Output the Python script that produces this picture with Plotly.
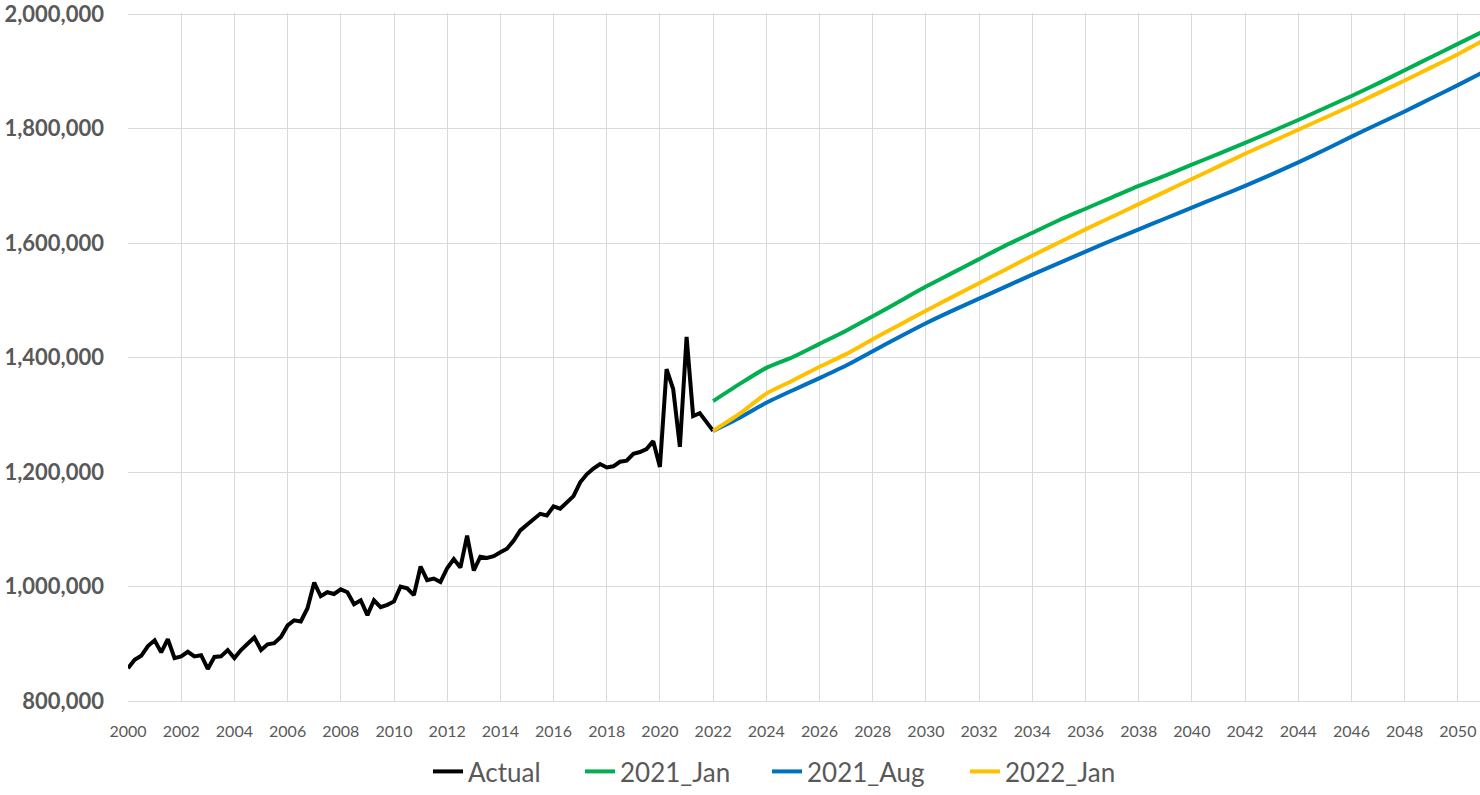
import pandas as pd
import plotly.graph_objects as go

# Actual quarterly values, Jan 2000 .. Jan 2022
actual_dates = pd.date_range("2000-01-01", periods=89, freq="QS")
actual = [
    857000, 872000, 879000, 896000, 906000, 885000, 908000, 875000, 878000, 886000,
    878000, 880000, 856000, 877000, 878000, 889000, 875000, 889000, 900000, 911000,
    889000, 899000, 901000, 912000, 932000, 941000, 939000, 962000, 1007000, 983000,
    990000, 987000, 995000, 990000, 969000, 976000, 950000, 976000, 964000, 968000,
    974000, 1000000, 997000, 985000, 1035000, 1011000, 1014000, 1008000, 1032000, 1048000,
    1033000, 1089000, 1028000, 1052000, 1050000, 1053000, 1060000, 1066000, 1080000, 1098000,
    1108000, 1118000, 1127000, 1124000, 1140000, 1136000, 1148000, 1158000, 1182000, 1196000,
    1206000, 1214000, 1208000, 1210000, 1218000, 1220000, 1232000, 1235000, 1240000, 1254000,
    1209000, 1380000, 1345000, 1244000, 1436000, 1298000, 1303000, 1288000, 1272000,
]

# Forecast vintages, yearly from Jan 2022
forecast_dates = pd.date_range("2022-01-01", periods=30, freq="YS")
fc_2021_jan = [
    1324000, 1354000, 1382000, 1401000, 1424000, 1447000, 1472000, 1498000, 1524000, 1548000,
    1572000, 1596000, 1618000, 1640000, 1660000, 1680000, 1700000, 1718000, 1737000, 1756000,
    1775000, 1795000, 1815000, 1836000, 1857000, 1879000, 1902000, 1925000, 1948000, 1971000,
]
fc_2021_aug = [
    1272000, 1295000, 1321000, 1343000, 1364000, 1386000, 1411000, 1436000, 1460000, 1482000,
    1503000, 1524000, 1545000, 1565000, 1585000, 1605000, 1624000, 1643000, 1662000, 1681000,
    1700000, 1720000, 1741000, 1763000, 1786000, 1808000, 1830000, 1853000, 1876000, 1900000,
]
fc_2022_jan = [
    1272000, 1302000, 1337000, 1360000, 1384000, 1406000, 1432000, 1457000, 1482000, 1506000,
    1530000, 1554000, 1578000, 1601000, 1624000, 1646000, 1668000, 1690000, 1712000, 1734000,
    1756000, 1777000, 1798000, 1819000, 1840000, 1862000, 1884000, 1907000, 1930000, 1955000,
]

y_ticks = [800000, 1000000, 1200000, 1400000, 1600000, 1800000, 2000000]

series = [
    ("Actual", actual_dates, actual, "#000000", "linear"),
    ("2021_Jan", forecast_dates, fc_2021_jan, "#00B050", "spline"),
    ("2021_Aug", forecast_dates, fc_2021_aug, "#0070C0", "spline"),
    ("2022_Jan", forecast_dates, fc_2022_jan, "#FFC000", "spline"),
]
# each legend entry gets its own legend box so the spacing can follow the original
legend_x = [428, 580, 767, 965]

fig = go.Figure()
legends = {}
for i, (name, xs, ys, color, shape) in enumerate(series):
    key = "legend" if i == 0 else f"legend{i + 1}"
    fig.add_trace(go.Scatter(
        x=xs, y=ys, name=name, mode="lines",
        line=dict(color=color, width=4, shape=shape, smoothing=0.6),
        legend=key,
    ))
    legends[key] = dict(
        orientation="h", xref="container", x=legend_x[i] / 1480, xanchor="left",
        yref="container", y=-0.019, yanchor="bottom",
        font=dict(size=26, color="#595959"), bgcolor="rgba(0,0,0,0)",
    )

fig.update_layout(
    width=1480, height=795,
    paper_bgcolor="white", plot_bgcolor="white",
    margin=dict(l=128, r=0, t=13, b=94, autoexpand=False),
    font=dict(family="Lato", color="#595959"),
    showlegend=True,
    **legends,
)
fig.update_xaxes(
    type="date", range=["2000-01-01", "2050-11-01"],
    tick0="2000-01-01", dtick="M24", tickformat="%Y",
    showgrid=True, gridcolor="#d9d9d9", gridwidth=1,
    showline=True, linecolor="#d9d9d9", linewidth=1,
    ticks="", tickfont=dict(size=16, color="#595959"),
    ticklabelstandoff=16, ticklabeloverflow="allow",
    zeroline=False, automargin=False,
)
fig.update_yaxes(
    range=[800000, 2002000], tickmode="array", tickvals=y_ticks,
    tickformat=",",
    showgrid=True, gridcolor="#d9d9d9", gridwidth=1,
    ticks="", tickfont=dict(size=22, color="#595959", weight="bold"),
    ticklabelstandoff=23, ticklabeloverflow="allow",
    zeroline=False, automargin=False,
)

# page body has a default 8px margin; drop it so the figure fills the window
fig.write_html(
    "out.html",
    config={"displayModeBar": False},
    post_script="document.body.style.margin='0';",
)
